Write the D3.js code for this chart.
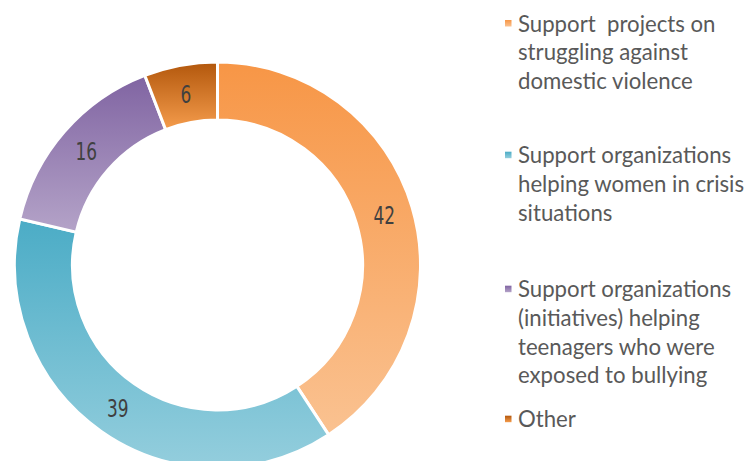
<!DOCTYPE html>
<html><head><meta charset="utf-8">
<script src="https://cdn.jsdelivr.net/npm/d3@7"></script>
<style>html,body{margin:0;padding:0;background:#fff;}svg{display:block;}</style>
</head><body>
<svg id="chart" width="747" height="461"></svg>
<script>
const categories = [
  "Support  projects on struggling against domestic violence",
  "Support organizations helping women in crisis situations",
  "Support organizations (initiatives) helping teenagers who were exposed to bullying",
  "Other"
];
const values = [42, 39, 16, 6];
const legendLines = [
  ["Support  projects on", "struggling against", "domestic violence"],
  ["Support organizations", "helping women in crisis", "situations"],
  ["Support organizations", "(initiatives) helping", "teenagers who were", "exposed to bullying"],
  ["Other"]
];
const colorTop = ["#F79646", "#4BACC6", "#8064A2", "#B2570C"];
const colorBottom = ["#FAC291", "#94CEDD", "#B4A3C8", "#F59C4C"];

const svg = d3.select("#chart");
const defs = svg.append("defs");
colorTop.forEach((c, i) => {
  const g = defs.append("linearGradient").attr("id", "g" + i)
    .attr("x1", 0).attr("y1", 0).attr("x2", 0).attr("y2", 1);
  g.append("stop").attr("offset", 0).attr("stop-color", c);
  g.append("stop").attr("offset", 1).attr("stop-color", colorBottom[i]);
});

const cx = 217.5, cy = 265, rOuter = 203, rInner = 145;
const pie = d3.pie().sort(null).value(d => d);
const arc = d3.arc().innerRadius(rInner).outerRadius(rOuter);
const arcs = pie(values);
const g = svg.append("g").attr("transform", `translate(${cx},${cy})`);
g.selectAll("path.slice").data(arcs).join("path")
  .attr("class", "slice")
  .attr("d", arc)
  .attr("fill", (d, i) => `url(#g${i})`)
  .attr("stroke", "#fff").attr("stroke-width", 3);

g.selectAll("text.lbl").data(arcs).join("text")
  .attr("class", "lbl")
  .attr("transform", d => { const [x, y] = arc.centroid(d); return `translate(${x},${y}) scale(0.74,1)`; })
  .attr("text-anchor", "middle").attr("dy", "0.36em")
  .style("font-family", "'Liberation Sans Narrow', 'DejaVu Sans Condensed', sans-serif")
  .style("font-size", "25.5px").attr("fill", "#404040")
  .text(d => d.data);

// legend
const legX = 505, textX = 518, lineH = 28.7;
const entryY = [23.3, 155, 289, 419];
const leg = svg.append("g");
legendLines.forEach((lines, i) => {
  leg.append("rect").attr("x", legX).attr("y", entryY[i] - 3.3).attr("width", 6.5).attr("height", 6.5)
    .attr("fill", `url(#g${i})`);
  const t = leg.append("text").attr("x", textX).attr("y", entryY[i])
    .style("font-family", "Lato, 'Open Sans', sans-serif").style("font-size", "22.2px")
    .style("white-space", "pre").attr("fill", "#595959");
  lines.forEach((l, j) => {
    t.append("tspan").attr("x", textX).attr("y", entryY[i] + 8.3 + j * lineH).text(l);
  });
});
</script>
</body></html>
